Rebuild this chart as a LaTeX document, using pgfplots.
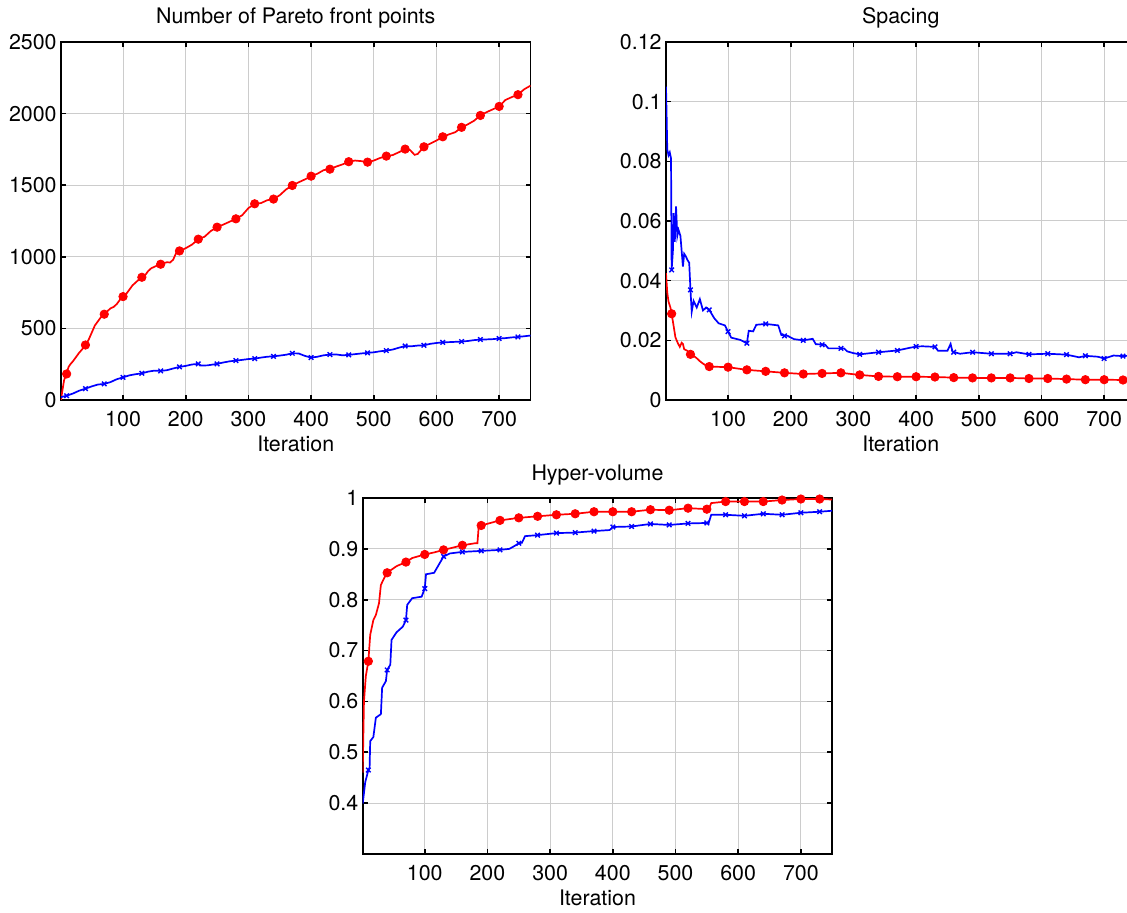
\documentclass[border=0pt]{standalone}
\usepackage{fontspec}
\setmainfont{TeX Gyre Heros}
\usepackage{pgfplots}
\pgfplotsset{compat=1.18}
\newcommand{\fs}{\fontsize{10.7pt}{12.8pt}\selectfont}
\pgfplotsset{
  every axis title/.style={at={(0.5,1)}, anchor=base, inner sep=0pt, yshift=9pt, font=\fs},
  mystyle/.style={
    scale only axis, width=234.75pt, height=179pt,
    xmin=1, xmax=750, xtick={100,200,300,400,500,600,700},
    grid=major, major grid style={gray!40, line width=0.5pt},
    axis line style={line width=0.8pt},
    tick align=inside, major tick length=2.5pt,
    every tick/.style={black, line width=0.8pt},
    tick label style={font=\fs},
    label style={font=\fs},
    /pgf/number format/assume math mode=true,
    /pgf/number format/1000 sep={},
    scaled y ticks=false, scaled x ticks=false,
    yticklabel style={inner sep=0pt, xshift=-2pt},
    xticklabel style={inner sep=0pt, yshift=-5.7pt},
    xlabel={Iteration},
    xlabel style={at={(axis description cs:0.5,0)}, anchor=north, inner sep=0pt, yshift=-18pt},
  },
  redline/.style={red, line width=0.85pt, no marks},
  bluline/.style={blue, line width=0.85pt, no marks},
  redmark/.style={only marks, mark=*, mark size=2.1pt, mark options={fill=red, draw=red}, red},
  blumark/.style={only marks, mark=x, mark size=1.6pt, mark options={line width=0.7pt}, blue},
}
\begin{document}
\begin{tikzpicture}[font=\fs]
\useasboundingbox (0,0) rectangle (563.5pt,456.5pt);
\clip (0,0) rectangle (563.5pt,456.5pt);
% ---------------- Top left ----------------
\begin{axis}[mystyle, at={(30.5pt,256.5pt)}, anchor=south west,
  ymin=0, ymax=2500, ytick={0,500,1000,1500,2000,2500},
  yticklabels={0,500,1000,1500,2000,2500},
  title={Number of Pareto front points}]
\addplot[redline] table {
1 0
3 60
6 140
10 182
13 230
16 250
20 270
25 300
30 330
35 355
40 384
45 420
50 470
55 520
60 550
65 580
70 599
75 620
80 640
85 650
90 670
95 700
100 722
105 740
110 770
115 800
120 820
125 840
130 857
135 870
140 900
145 920
150 930
155 940
160 948
165 955
170 962
175 960
180 980
185 1030
190 1041
195 1050
200 1060
210 1085
220 1123
230 1140
235 1160
240 1180
250 1207
260 1225
270 1245
280 1265
290 1290
300 1340
310 1370
320 1375
330 1395
340 1403
350 1430
360 1470
370 1498
380 1520
390 1540
400 1563
410 1580
420 1605
430 1612
440 1630
450 1645
460 1664
470 1672
480 1668
490 1661
500 1672
510 1690
520 1703
530 1710
540 1730
550 1752
558 1745
565 1712
570 1718
580 1768
590 1790
600 1812
610 1838
620 1855
630 1870
640 1904
650 1925
660 1950
670 1987
680 2010
690 2030
700 2050
710 2095
720 2115
730 2132
740 2170
750 2195
};
\addplot[redmark] table {
10 182
40 384
70 599
100 722
130 857
160 948
190 1041
220 1123
250 1207
280 1265
310 1370
340 1403
370 1498
400 1563
430 1612
460 1664
490 1661
520 1703
550 1752
580 1768
610 1838
640 1904
670 1987
700 2050
730 2132
};
\addplot[bluline] table {
1 20
10 30
20 45
30 65
40 79
50 95
60 108
70 112
80 125
90 145
100 158
110 172
120 180
130 186
140 198
150 205
160 203
170 208
180 220
190 231
200 238
210 248
220 252
225 240
235 242
250 252
260 262
270 270
280 275
290 280
300 286
310 289
320 296
330 302
340 305
350 310
360 316
370 326
380 325
390 308
400 296
410 302
420 312
430 317
440 318
450 312
460 315
470 320
480 325
490 329
500 333
510 340
520 345
530 352
540 365
550 377
560 375
570 380
580 382
590 392
600 398
610 403
620 404
630 406
640 408
650 412
660 418
670 422
680 423
690 425
700 429
710 432
720 437
730 440
740 445
750 450
};
\addplot[blumark] table {
10 30
40 79
70 112
100 158
130 186
160 203
190 231
220 252
250 252
280 275
310 289
340 305
370 326
400 296
430 317
460 315
490 329
520 345
550 377
580 382
610 403
640 408
670 422
700 429
730 440
};
\end{axis}
% ---------------- Top right ----------------
\begin{axis}[mystyle, at={(333pt,256.5pt)}, anchor=south west,
  ymin=0, ymax=0.12, ytick={0,0.02,0.04,0.06,0.08,0.1,0.12},
  yticklabels={0,0.02,0.04,0.06,0.08,0.1,0.12},
  title={Spacing}]
\addplot[redline] table {
1 0.0425
3 0.036
5 0.033
8 0.031
10 0.0289
13 0.025
16 0.021
20 0.019
23 0.0178
26 0.0192
28 0.0188
30 0.017
35 0.0165
40 0.0153
45 0.0148
50 0.0140
55 0.0130
60 0.0122
65 0.0115
70 0.0112
100 0.0110
130 0.0101
160 0.0096
190 0.0091
220 0.0087
250 0.0089
280 0.0091
310 0.0084
340 0.0079
370 0.0078
400 0.0078
430 0.0077
460 0.0075
490 0.0074
520 0.0074
550 0.0074
580 0.0072
610 0.0072
640 0.0070
670 0.0068
700 0.0068
730 0.0067
750 0.0067
};
\addplot[redmark] table {
10 0.0289
40 0.0153
70 0.0112
100 0.0110
130 0.0101
160 0.0096
190 0.0091
220 0.0087
250 0.0089
280 0.0091
310 0.0084
340 0.0079
370 0.0078
400 0.0078
430 0.0077
460 0.0075
490 0.0074
520 0.0074
550 0.0074
580 0.0072
610 0.0072
640 0.0070
670 0.0068
700 0.0068
730 0.0067
};
\addplot[bluline] table {
1 0.105
2 0.095
3 0.084
5 0.082
7 0.083
9 0.081
10 0.0436
12 0.05
13 0.0626
15 0.053
17 0.0649
19 0.055
21 0.057
24 0.055
28 0.0447
30 0.049
33 0.048
35 0.047
38 0.046
40 0.0369
42 0.0296
45 0.0332
50 0.031
55 0.0338
60 0.030
65 0.031
70 0.0302
78 0.0274
85 0.0257
95 0.025
100 0.0229
105 0.0209
120 0.0201
130 0.019
133 0.0232
140 0.023
145 0.0252
160 0.0255
180 0.025
185 0.0218
195 0.0215
205 0.0204
220 0.020
235 0.0205
240 0.0187
255 0.0185
260 0.0173
285 0.0173
290 0.0163
300 0.0157
310 0.0153
340 0.016
370 0.0166
390 0.0175
400 0.0179
410 0.018
430 0.0178
435 0.0165
450 0.0165
455 0.0188
458 0.0162
470 0.0155
490 0.016
520 0.0155
550 0.0155
560 0.016
580 0.0153
610 0.0155
640 0.0152
660 0.0143
670 0.0148
690 0.0145
700 0.0139
715 0.0149
730 0.0147
750 0.015
};
\addplot[blumark] table {
10 0.0436
40 0.0369
70 0.0302
100 0.0229
130 0.019
160 0.0255
190 0.0215
220 0.020
250 0.0185
280 0.0173
310 0.0153
340 0.016
370 0.0166
400 0.0179
430 0.0178
460 0.016
490 0.016
520 0.0155
550 0.0155
580 0.0153
610 0.0155
640 0.0152
670 0.0148
700 0.0139
730 0.0147
};
\end{axis}
% ---------------- Bottom ----------------
\begin{axis}[mystyle, at={(181.35pt,29.5pt)}, anchor=south west, height=178pt,
  ymin=0.3, ymax=1, ytick={0.4,0.5,0.6,0.7,0.8,0.9,1},
  yticklabels={0.4,0.5,0.6,0.7,0.8,0.9,1},
  title={Hyper-volume}]
\addplot[redline] table {
1 0.46
3 0.60
6 0.65
10 0.679
13 0.731
18 0.760
22 0.77
27 0.793
30 0.829
35 0.842
40 0.853
55 0.866
70 0.874
80 0.882
100 0.889
115 0.893
130 0.898
160 0.907
180 0.911
184 0.911
186 0.943
190 0.946
220 0.956
250 0.961
280 0.964
310 0.967
340 0.969
370 0.973
400 0.973
430 0.973
460 0.977
490 0.976
520 0.980
553 0.978
557 0.990
580 0.993
610 0.993
640 0.993
670 0.996
700 0.998
730 0.998
750 0.997
};
\addplot[redmark] table {
10 0.679
40 0.853
70 0.874
100 0.889
130 0.898
160 0.907
190 0.946
220 0.956
250 0.961
280 0.964
310 0.967
340 0.969
370 0.973
400 0.973
430 0.973
460 0.977
490 0.976
520 0.980
550 0.978
580 0.993
610 0.993
640 0.993
670 0.996
700 0.998
730 0.998
};
\addplot[bluline] table {
1 0.399
5 0.441
10 0.465
12 0.47
13 0.522
18 0.53
20 0.549
22 0.568
30 0.575
32 0.627
38 0.64
40 0.662
45 0.672
47 0.721
55 0.736
65 0.747
70 0.760
72 0.790
80 0.803
95 0.806
100 0.822
102 0.850
115 0.853
122 0.868
130 0.885
140 0.891
160 0.894
190 0.896
220 0.898
235 0.90
245 0.907
250 0.911
255 0.912
260 0.925
280 0.927
310 0.931
340 0.932
370 0.935
395 0.937
400 0.943
430 0.944
460 0.949
490 0.947
520 0.950
553 0.951
557 0.967
580 0.967
610 0.965
640 0.969
670 0.967
700 0.971
730 0.973
750 0.975
};
\addplot[blumark] table {
10 0.465
40 0.662
70 0.760
100 0.822
130 0.885
160 0.894
190 0.896
220 0.898
250 0.911
280 0.927
310 0.931
340 0.932
370 0.935
400 0.943
430 0.944
460 0.949
490 0.947
520 0.950
550 0.951
580 0.967
610 0.965
640 0.969
670 0.967
700 0.971
730 0.973
};
\end{axis}
\end{tikzpicture}
\end{document}
